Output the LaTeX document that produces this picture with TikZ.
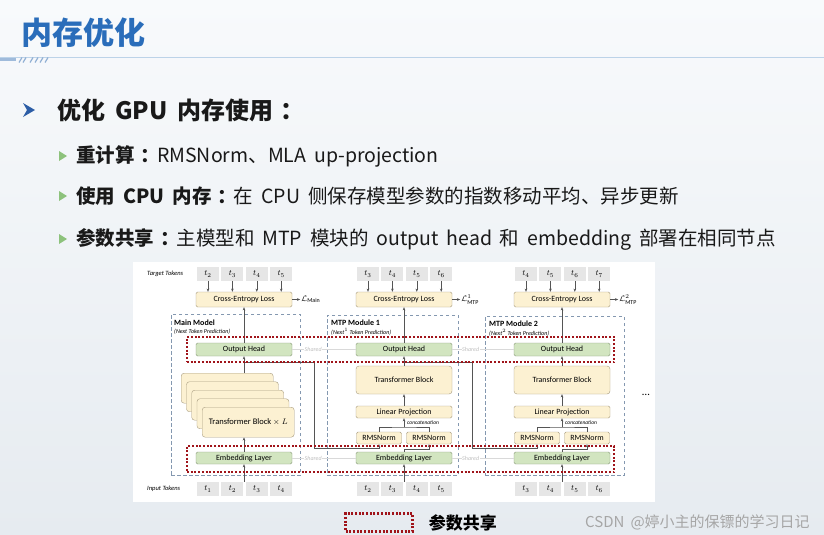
\documentclass[tikz,border=0pt]{standalone}
\usepackage{fontspec}
\usepackage{amsmath}
\setmainfont{Carlito}
\newfontfamily\cjk[WordSpace=1.8]{Noto Sans CJK SC}
\usetikzlibrary{positioning,arrows.meta}

\definecolor{titleblue}{HTML}{2A6DBA}
\definecolor{bulletblue}{HTML}{2C5DA6}
\definecolor{bulletgreen}{HTML}{8DC27C}
\definecolor{ruleblue}{HTML}{BCD3E8}
\definecolor{yfill}{HTML}{FCF1D2}
\definecolor{ydraw}{HTML}{A89C80}
\definecolor{gfill}{HTML}{D2E5C0}
\definecolor{gdraw}{HTML}{8A9C7C}
\definecolor{tokgray}{HTML}{E6E6E6}
\definecolor{modblue}{HTML}{8498B0}
\definecolor{sharered}{HTML}{A0141A}
\definecolor{linkgray}{HTML}{555555}
\definecolor{slidetop}{HTML}{F8FAFC}
\definecolor{slidebot}{HTML}{E6EBF0}

\newcommand{\kcolon}{\hspace{0.3em}：\hspace{-0.15em}}

\begin{document}
\begin{tikzpicture}[x=1pt, y=-1pt, >={Stealth[length=3.2pt,width=2.6pt]},
    tok/.style = {fill=tokgray, minimum width=22pt, minimum height=14pt, inner sep=0pt, font=\fontsize{8}{8}\selectfont},
    ybox/.style = {draw=ydraw, fill=yfill, rounded corners=1.5pt, minimum width=96pt, minimum height=13pt, inner sep=0pt, font=\fontsize{8}{9}\selectfont},
    gbox/.style = {ybox, draw=gdraw, fill=gfill},
    rms/.style = {ybox, minimum width=45pt, minimum height=12pt},
    tbox/.style = {ybox, rounded corners=3pt, minimum width=92pt, minimum height=30pt, anchor=north west},
    modbox/.style = {draw=modblue, dash pattern=on 3.5pt off 2.5pt, line width=0.6pt, inner sep=0pt},
    sharebox/.style = {draw=sharered, line width=2.3pt, dash pattern=on 2pt off 1.7pt, inner sep=0pt},
    link/.style = {draw=linkgray, line width=0.6pt},
    shline/.style = {draw=black!15, line width=0.5pt},
    shlbl/.style = {fill=white, inner sep=0.5pt, text=black!25, font=\itshape\fontsize{6}{6}\selectfont},
    modtitle/.style = {anchor=west, inner sep=0pt, font=\bfseries\fontsize{8}{8}\selectfont},
    modsub/.style = {anchor=west, inner sep=0pt, font=\itshape\fontsize{6}{6}\selectfont},
    side/.style = {anchor=west, inner sep=0pt, font=\itshape\fontsize{6.5}{6.5}\selectfont},
    lossl/.style = {inner sep=1pt, anchor=west, font=\fontsize{8}{8}\selectfont},
    concat/.style = {anchor=west, inner sep=0pt, font=\itshape\fontsize{5.5}{5.5}\selectfont},
    bodytext/.style = {anchor=west, inner sep=0pt, text=black!90, font=\cjk\fontsize{19.5}{22}\selectfont}]

\useasboundingbox (0,0) rectangle (824,535);
\shade[top color=slidetop, bottom color=slidebot] (0,0) rectangle (824,535);

% title and rule
\node[anchor=west, inner sep=0pt, text=titleblue, font=\cjk\bfseries\fontsize{31}{34}\selectfont] (title) at (21,33) {内存优化};
\draw[ruleblue, line width=0.8pt] (0,57) -- (824,57);
\draw[ruleblue!80!bulletblue, line width=3pt] (0,60) -- (16,60);
\foreach \sx in {19,23,30,35,40,45}
    \draw[ruleblue!70!bulletblue, line width=1.2pt] (\sx,62.5) -- (\sx+3,57.5);

% bullets
\fill[bulletblue] (23,103) -- (35,110) -- (23,117) -- (27,110) -- cycle;
\node[bodytext, font=\cjk\bfseries\fontsize{24}{26}\selectfont] (h1) at (57,110) {优化 GPU 内存使用\kcolon};
\fill[bulletgreen] (59,151) -- (67,156) -- (59,161) -- cycle;
\node[bodytext] (p1) at (76,156) {\bfseries 重计算\kcolon\mdseries RMSNorm、MLA up-projection};
\fill[bulletgreen] (59,191) -- (67,196) -- (59,201) -- cycle;
\node[bodytext] (p2) at (76,196) {\bfseries 使用 CPU 内存\kcolon\mdseries 在 CPU 侧保存模型参数的指数移动平均、异步更新};
\fill[bulletgreen] (59,234) -- (67,239) -- (59,244) -- cycle;
\node[bodytext] (p3) at (76,239) {\bfseries 参数共享\kcolon\mdseries 主模型和 MTP 模块的 output head 和 embedding 部署在相同节点};

% figure panel
\fill[white] (133,262) rectangle (655,502);

% module frames
\node[modbox, minimum width=129pt, minimum height=161pt] (m0) at (235.5,394.5) {};
\node[modbox, minimum width=131pt, minimum height=160pt] (m1) at (392.5,395) {};
\node[modbox, minimum width=139pt, minimum height=159pt] (m2) at (554.5,395.5) {};
\node[modtitle] (m0t) at (174,323) {Main Model};
\node[modsub] at (174,332) {(Next Token Prediction)};
\node[modtitle] (m1t) at (331,323) {MTP Module 1};
\node[modsub] at (331,332) {(Next$^1$ Token Prediction)};
\node[modtitle] (m2t) at (489,324) {MTP Module 2};
\node[modsub] at (489,333) {(Next$^2$ Token Prediction)};

% main model
\node[side] at (147,274) {Target Tokens};
\node[tok] (a2) at (208,274) {$t_2$};
\node[tok, right=2pt of a2] (a3) {$t_3$};
\node[tok, right=2pt of a3] (a4) {$t_4$};
\node[tok, right=2pt of a4] (a5) {$t_5$};
\node[ybox, minimum height=15pt] (ce0) at (244,299.5) {Cross-Entropy Loss};
\node[lossl, right=8pt of ce0] (l0) {$\mathcal{L}_{\text{Main}}$};
\node[gbox] (oh0) at (244,349.5) {Output Head};
\node[tbox] (s1) at (181,373) {};
\node[tbox] (s2) at (186.25,381.5) {};
\node[tbox] (s3) at (191.5,390) {};
\node[tbox] (s4) at (196.75,398.5) {};
\node[tbox, font=\fontsize{8.5}{9}\selectfont] (s5) at (202,407) {Transformer Block $\times$ $L$};
\node[gbox, minimum height=12pt] (em0) at (244,458) {Embedding Layer};
\node[side] at (147,489) {Input Tokens};
\node[tok] (b1) at (208,489) {$t_1$};
\node[tok, right=2pt of b1] (b2) {$t_2$};
\node[tok, right=2pt of b2] (b3) {$t_3$};
\node[tok, right=2pt of b3] (b4) {$t_4$};

% mtp module 1
\node[tok] (c3) at (368,274) {$t_3$};
\node[tok, right=2pt of c3] (c4) {$t_4$};
\node[tok, right=2pt of c4] (c5) {$t_5$};
\node[tok, right=2pt of c5] (c6) {$t_6$};
\node[ybox, minimum height=15pt] (ce1) at (404,299.5) {Cross-Entropy Loss};
\node[lossl, right=8pt of ce1] (l1) {$\mathcal{L}^1_{\text{MTP}}$};
\node[gbox] (oh1) at (404,349.5) {Output Head};
\node[ybox, rounded corners=3pt, minimum height=28pt] (tb1) at (404,380) {Transformer Block};
\node[ybox, minimum height=12pt] (lp1) at (404,412) {Linear Projection};
\node[rms] (r1a) at (379,438) {RMSNorm};
\node[rms] (r1b) at (429,438) {RMSNorm};
\node[gbox, minimum height=12pt] (em1) at (404,458) {Embedding Layer};
\node[tok] (d2) at (368,489) {$t_2$};
\node[tok, right=2pt of d2] (d3) {$t_3$};
\node[tok, right=2pt of d3] (d4) {$t_4$};
\node[tok, right=2pt of d4] (d5) {$t_5$};

% mtp module 2
\node[tok] (e4) at (526,274) {$t_4$};
\node[tok, right=2pt of e4] (e5) {$t_5$};
\node[tok, right=2pt of e5] (e6) {$t_6$};
\node[tok, right=2pt of e6] (e7) {$t_7$};
\node[ybox, minimum height=15pt] (ce2) at (562,299.5) {Cross-Entropy Loss};
\node[lossl, right=8pt of ce2] (l2) {$\mathcal{L}^2_{\text{MTP}}$};
\node[gbox] (oh2) at (562,349.5) {Output Head};
\node[ybox, rounded corners=3pt, minimum height=28pt] (tb2) at (562,380) {Transformer Block};
\node[ybox, minimum height=12pt] (lp2) at (562,412) {Linear Projection};
\node[rms] (r2a) at (537,438) {RMSNorm};
\node[rms] (r2b) at (587,438) {RMSNorm};
\node[gbox, minimum height=12pt] (em2) at (562,458) {Embedding Layer};
\node[tok] (f3) at (526,489) {$t_3$};
\node[tok, right=2pt of f3] (f4) {$t_4$};
\node[tok, right=2pt of f4] (f5) {$t_5$};
\node[tok, right=2pt of f5] (f6) {$t_6$};
\node[font=\fontsize{11}{11}\selectfont] (more) at (646,395) {\dots};

% target tokens into the losses
\draw[link, ->] (a2.south) -- (a2.south |- ce0.north);
\draw[link, ->] (a3.south) -- (a3.south |- ce0.north);
\draw[link, ->] (a4.south) -- (a4.south |- ce0.north);
\draw[link, ->] (a5.south) -- (a5.south |- ce0.north);
\draw[link, ->] (c3.south) -- (c3.south |- ce1.north);
\draw[link, ->] (c4.south) -- (c4.south |- ce1.north);
\draw[link, ->] (c5.south) -- (c5.south |- ce1.north);
\draw[link, ->] (c6.south) -- (c6.south |- ce1.north);
\draw[link, ->] (e4.south) -- (e4.south |- ce2.north);
\draw[link, ->] (e5.south) -- (e5.south |- ce2.north);
\draw[link, ->] (e6.south) -- (e6.south |- ce2.north);
\draw[link, ->] (e7.south) -- (e7.south |- ce2.north);
\draw[link, ->] (ce0.east) -- (l0.west);
\draw[link, ->] (ce1.east) -- (l1.west);
\draw[link, ->] (ce2.east) -- (l2.west);

% main model flow
\draw[link, ->] (em0.south |- b2.north) -- (em0.south);
\draw[link, ->] (em0.north) -- (em0.north |- s5.south);
\draw[link, ->] (oh0.south |- s1.north) -- (oh0.south);
\draw[link, ->] (oh0.north) -- (ce0.south);

% mtp 1 flow
\coordinate (j1) at (404,427);
\draw[link, ->] (em1.south |- d2.north) -- (em1.south);
\draw[link, ->] (em1.north) -- ++(0,-3) -| (r1b.south);
\draw[link] (r1a.north) |- (j1) -| (r1b.north);
\draw[link, ->] (j1) -- (lp1.south);
\node[concat] at (407,422.5) {concatenation};
\draw[link, ->] (lp1.north) -- (tb1.south);
\draw[link, ->] (tb1.north) -- (oh1.south);
\draw[link, ->] (oh1.north) -- (ce1.south);

% mtp 2 flow
\coordinate (j2) at (562,427);
\draw[link, ->] (em2.south |- f3.north) -- (em2.south);
\draw[link, ->] (em2.north) -- ++(0,-3) -| (r2b.south);
\draw[link] (r2a.north) |- (j2) -| (r2b.north);
\draw[link, ->] (j2) -- (lp2.south);
\node[concat] at (565,422.5) {concatenation};
\draw[link, ->] (lp2.north) -- (tb2.south);
\draw[link, ->] (tb2.north) -- (oh2.south);
\draw[link, ->] (oh2.north) -- (ce2.south);

% hidden states passed on
\coordinate (k0) at (244,362);
\coordinate (k0b) at (314,448);
\coordinate (k1) at (404,362);
\coordinate (k1b) at (472,448);
\draw[link, ->] (k0) -| (k0b) -| (r1a.south);
\draw[link, ->] (k1) -| (k1b) -| (r2a.south);

% shared weights
\draw[shline] (oh0.east) -- node[shlbl, pos=0.33] {Shared} (oh1.west);
\draw[shline] (oh1.east) -- node[shlbl, pos=0.3] {Shared} (oh2.west);
\draw[shline] (em0.east) -- node[shlbl, pos=0.33] {Shared} (em1.west);
\draw[shline] (em1.east) -- node[shlbl, pos=0.3] {Shared} (em2.west);
\node[sharebox, minimum width=427pt, minimum height=25pt] (sh1) at (400.5,349.5) {};
\node[sharebox, minimum width=427pt, minimum height=26pt] (sh2) at (400.5,459) {};

% legend and mark
\node[sharebox, minimum width=67pt, minimum height=18pt] (lg) at (379,522.5) {};
\node[right=15pt of lg, inner sep=0pt, font=\cjk\bfseries\fontsize{17}{17}\selectfont] (lgt) {参数共享};
\node[anchor=west, inner sep=0pt, text=black!35, font=\cjk\fontsize{15}{15}\selectfont] (wm) at (585,522) {CSDN @婷小主的保镖的学习日记};
\end{tikzpicture}
\end{document}
